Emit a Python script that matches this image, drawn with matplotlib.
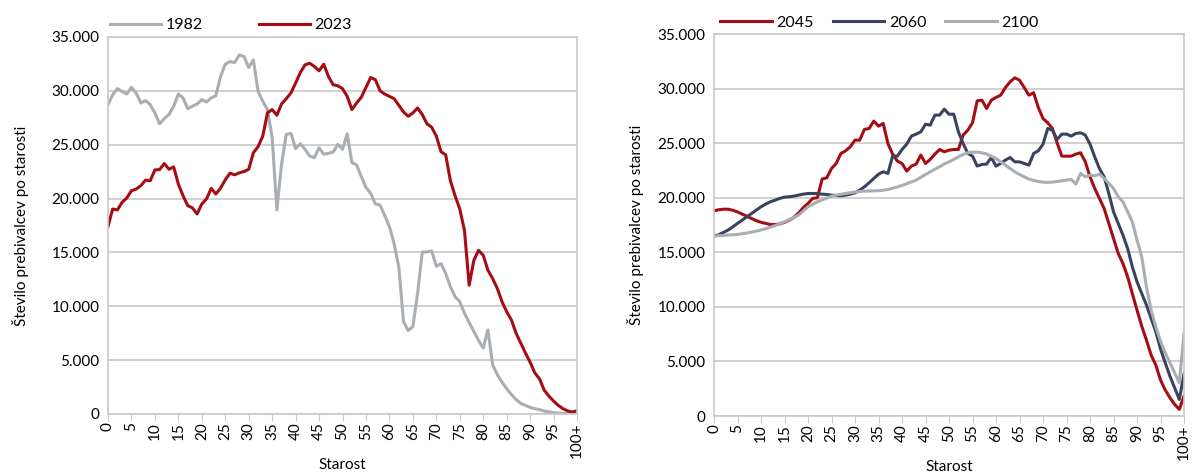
import numpy as np
import matplotlib
matplotlib.use("Agg")
import matplotlib.pyplot as plt
from matplotlib.ticker import FuncFormatter

plt.rcParams['font.family'] = ['Lato', 'DejaVu Sans']

# Ages 0..100 (100 = "100+")
ages = np.arange(101)

pop_1982 = [
    28720, 29640, 30200, 29950, 29700, 30320, 29800, 28870, 29090, 28720,
    27950, 26940, 27430, 27800, 28570, 29700, 29340, 28350, 28570, 28780,
    29180, 28970, 29340, 29550, 31330, 32470, 32720, 32630, 33330, 33180,
    32170, 32870, 29950, 29030, 28260, 25650, 18940, 23190, 25950, 26050,
    24630, 25090, 24570, 23950, 23800, 24720, 24110, 24200, 24320, 25030,
    24570, 26010, 23340, 23120, 22050, 21030, 20480, 19500, 19400, 18420,
    17400, 15810, 13650, 8580, 7750, 8120, 11190, 15040, 15040, 15130,
    13710, 13960, 13040, 11810, 10890, 10420, 9350, 8490, 7660, 6830,
    6120, 7810, 4580, 3660, 2950, 2340, 1810, 1350, 980, 800,
    615, 490, 400, 280, 185, 120, 80, 50, 30, 20,
    30,
]

pop_2023 = [
    17400, 19030, 18940, 19650, 20050, 20730, 20880, 21190, 21710, 21650,
    22660, 22690, 23250, 22720, 22940, 21340, 20260, 19340, 19130, 18570,
    19500, 19960, 20940, 20420, 20970, 21740, 22350, 22200, 22390, 22510,
    22720, 24260, 24820, 25800, 27950, 28260, 27740, 28780, 29270, 29800,
    30720, 31700, 32410, 32560, 32260, 31860, 32470, 31330, 30570, 30470,
    30200, 29490, 28260, 28870, 29400, 30320, 31240, 31030, 30010, 29700,
    29490, 29270, 28660, 28040, 27640, 27950, 28410, 27800, 26940, 26630,
    25800, 24350, 24050, 21650, 20260, 19030, 17040, 11960, 14270, 15190,
    14730, 13350, 12580, 11650, 10420, 9500, 8730, 7500, 6580, 5660,
    4800, 3810, 3260, 2210, 1660, 1200, 800, 490, 280, 185,
    300,
]

pop_2045 = [
    18800, 18900, 18950, 18950, 18850, 18700, 18500, 18300, 18100, 17900,
    17750, 17650, 17550, 17550, 17600, 17750, 17950, 18200, 18600, 19100,
    19480, 19940, 20000, 21710, 21830, 22680, 23140, 24060, 24300, 24670,
    25280, 25280, 26260, 26350, 27020, 26560, 26810, 24970, 24000, 23360,
    23140, 22440, 22900, 23080, 23910, 23140, 23510, 24000, 24420, 24210,
    24360, 24420, 24420, 25740, 26190, 26870, 28880, 28940, 28180, 28940,
    29190, 29400, 30100, 30620, 30990, 30770, 30100, 29400, 29620, 28270,
    27260, 26870, 26350, 25030, 23810, 23810, 23810, 24000, 24120, 23290,
    21920, 20850, 19940, 19020, 17650, 16270, 14900, 13980, 12760, 11230,
    9710, 8240, 6960, 5590, 4670, 3300, 2380, 1680, 1070, 610,
    1830,
]

pop_2060 = [
    16490, 16610, 16820, 17040, 17340, 17650, 17950, 18260, 18560, 18870,
    19170, 19420, 19630, 19780, 19940, 20060, 20090, 20150, 20240, 20330,
    20390, 20390, 20390, 20330, 20300, 20240, 20210, 20180, 20240, 20330,
    20450, 20700, 21000, 21370, 21770, 22160, 22380, 22230, 23810, 23810,
    24420, 24910, 25650, 25830, 26040, 26740, 26650, 27570, 27570, 28120,
    27650, 27660, 26040, 24970, 24060, 23810, 22900, 23050, 23080, 23690,
    22900, 23140, 23450, 23690, 23290, 23290, 23140, 22990, 24060, 24300,
    24910, 26350, 26190, 25340, 25830, 25830, 25650, 25890, 25950, 25740,
    24910, 23750, 22680, 21920, 20390, 18710, 17650, 16580, 15360, 13680,
    12300, 11230, 10170, 8950, 7720, 6150, 4880, 3660, 2590, 1520,
    3850,
]

pop_2100 = [
    16490, 16520, 16550, 16580, 16610, 16640, 16700, 16770, 16850, 16940,
    17040, 17160, 17300, 17450, 17620, 17800, 18000, 18200, 18410, 18790,
    19170, 19400, 19630, 19800, 19980, 20150, 20240, 20320, 20390, 20460,
    20520, 20570, 20610, 20620, 20630, 20640, 20690, 20760, 20870, 20990,
    21130, 21290, 21450, 21620, 21870, 22130, 22370, 22610, 22840, 23100,
    23290, 23510, 23750, 23970, 24120, 24180, 24180, 24120, 24000, 23810,
    23600, 23290, 22990, 22680, 22380, 22130, 21920, 21710, 21590, 21490,
    21430, 21400, 21430, 21490, 21550, 21620, 21680, 21250, 22230, 21920,
    22070, 22010, 22160, 21770, 21310, 20850, 20090, 19630, 18710, 17800,
    16120, 14590, 11850, 9710, 8180, 6860, 5790, 4870, 3960, 3040,
    7570,
]

tick_ages = list(range(0, 101, 5))
tick_labels = [str(a) for a in range(0, 100, 5)] + ["100+"]

red = "#A50D12"
navy = "#39435E"
grey = "#A9AEB3"
grid_c = "#C8C8C8"

fmt = FuncFormatter(lambda v, p: f"{int(v):,}".replace(",", "."))


def style(ax):
    ax.set_xlim(0, 100)
    ax.set_ylim(0, 35000)
    ax.set_yticks(range(0, 35001, 5000))
    ax.yaxis.set_major_formatter(fmt)
    ax.set_xticks(tick_ages)
    ax.set_xticklabels(tick_labels, rotation=90)
    ax.grid(axis="y", color=grid_c, linewidth=1.2)
    ax.set_axisbelow(True)
    for s in ax.spines.values():
        s.set_color(grid_c)
        s.set_linewidth(1.2)
    ax.tick_params(axis="x", direction="out", length=5, color=grid_c,
                   labelsize=11, pad=1)
    ax.tick_params(axis="y", length=0, labelsize=11, pad=6)
    ax.set_xlabel("Starost", fontsize=11, labelpad=0)
    ax.set_ylabel("Število prebivalcev po starosti", fontsize=11, labelpad=16)


fig = plt.figure(figsize=(11.92, 4.76), dpi=100)
ax1 = fig.add_axes([0.0906, 0.1303, 0.3935, 0.792])
ax2 = fig.add_axes([0.599, 0.126, 0.3943, 0.8025])

ax1.plot(ages, pop_1982, color=grey, lw=2.2, label="1982")
ax1.plot(ages, pop_2023, color=red, lw=2.2, label="2023")
style(ax1)
ax1.legend(loc="lower left", bbox_to_anchor=(-0.01, 0.995), ncol=2, frameon=False,
           fontsize=11.5, handlelength=3.2, columnspacing=3.5, handletextpad=0.3,
           borderaxespad=0)

ax2.plot(ages, pop_2045, color=red, lw=2.2, label="2045")
ax2.plot(ages, pop_2060, color=navy, lw=2.2, label="2060")
ax2.plot(ages, pop_2100, color=grey, lw=2.2, label="2100")
style(ax2)
ax2.set_ylabel("Število prebivalcev po starosti", fontsize=11, labelpad=10)
ax2.legend(loc="lower left", bbox_to_anchor=(0.0, 0.995), ncol=3, frameon=False,
           fontsize=11.5, handlelength=3.2, columnspacing=1.2, handletextpad=0.3,
           borderaxespad=0)

fig.savefig("out.png", dpi=100)
